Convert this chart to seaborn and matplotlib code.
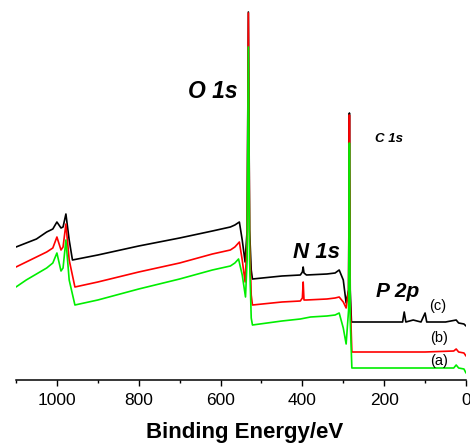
import numpy as np
import pandas as pd
import matplotlib
matplotlib.use("Agg")
import matplotlib.pyplot as plt
from matplotlib.ticker import MultipleLocator
import seaborn as sns

# XPS survey spectra (intensity in arbitrary units)
energy_c = [1100, 1075, 1050, 1025, 1010, 1000, 990, 985, 978, 970, 962, 900, 800, 700, 620,
            576, 565, 554, 547, 540, 535, 532, 529, 525, 522, 450, 405, 400, 398, 396, 390,
            340, 320, 310, 300, 293, 287, 285, 283, 280, 276, 200, 155, 151, 147, 129, 110,
            100, 96, 50, 24, 18, 5, 0]
intensity_c = [133, 137, 141, 148, 151, 158, 152, 153, 166, 140, 120, 125, 134, 142, 149,
               153, 155, 158, 140, 118, 150, 368, 150, 110, 101, 104, 105, 108, 113, 107, 105,
               106, 107, 110, 100, 77, 90, 267, 90, 58, 58, 58, 58, 68, 58, 60, 58,
               67, 58, 58, 60, 57, 56, 54]

energy_b = [1100, 1075, 1050, 1025, 1010, 1000, 990, 985, 978, 970, 956, 900, 800, 700, 620,
            576, 565, 554, 547, 540, 535, 532, 529, 525, 522, 450, 405, 400, 398, 396, 390,
            340, 320, 310, 300, 293, 287, 285, 283, 279, 200, 100, 30, 24, 18, 5, 0]
intensity_b = [113, 118, 123, 128, 132, 143, 130, 133, 156, 120, 93, 98, 108, 117, 126,
               130, 133, 138, 120, 98, 140, 367, 140, 85, 75, 78, 79, 82, 98, 80, 80,
               81, 82, 83, 78, 72, 90, 265, 80, 28, 28, 28, 29, 31, 28, 27, 24]

energy_a = [1100, 1075, 1050, 1025, 1010, 1000, 990, 985, 978, 970, 956, 900, 800, 700, 620,
            576, 565, 556, 547, 539, 535, 532, 529, 525, 522, 450, 405, 380, 340, 320, 310,
            300, 293, 287, 285, 283, 279, 200, 100, 30, 24, 18, 5, 0]
intensity_a = [93, 100, 106, 112, 117, 127, 109, 112, 140, 100, 75, 80, 91, 101, 110,
               114, 117, 121, 105, 83, 120, 333, 120, 62, 55, 59, 61, 63, 64, 65, 67,
               52, 36, 70, 237, 60, 12, 12, 12, 12, 15, 12, 11, 7]

sample_labels = ["(c)", "(b)", "(a)"]
sample_colors = ["black", "#ff0000", "#00ee00"]

df = pd.concat([
    pd.DataFrame({"Binding Energy": energy_c, "Intensity": intensity_c, "Sample": "(c)"}),
    pd.DataFrame({"Binding Energy": energy_b, "Intensity": intensity_b, "Sample": "(b)"}),
    pd.DataFrame({"Binding Energy": energy_a, "Intensity": intensity_a, "Sample": "(a)"}),
], ignore_index=True)

sns.set_style("white")
plt.rcParams["font.family"] = ["Liberation Sans", "DejaVu Sans"]
plt.rcParams["text.color"] = "black"
plt.rcParams["axes.labelcolor"] = "black"
plt.rcParams["xtick.color"] = "black"

fig = plt.figure(figsize=(4.7, 4.45), dpi=100)
ax = fig.add_axes([16 / 470, 1 - 380 / 445, 450 / 470, 380 / 445])

sns.lineplot(data=df, x="Binding Energy", y="Intensity", hue="Sample",
             hue_order=sample_labels, palette=sample_colors, linewidth=1.2,
             legend=False, estimator=None, sort=False, ax=ax)

ax.set_xlim(1100, 0)
ax.set_ylim(0, 380)
ax.xaxis.set_major_locator(MultipleLocator(200))
ax.xaxis.set_minor_locator(MultipleLocator(100))
ax.set_yticks([])
ax.set_ylabel("")
for s in ["left", "right", "top"]:
    ax.spines[s].set_visible(False)
ax.spines["bottom"].set_linewidth(1.1)
ax.spines["bottom"].set_color("black")
ax.tick_params(axis="x", which="major", direction="out", length=4.5, width=1,
               labelsize=12.5, pad=5, bottom=True)
ax.tick_params(axis="x", which="minor", direction="out", length=2.5, width=1, bottom=True)
ax.set_xlabel("Binding Energy/eV", fontsize=16, fontweight="bold", labelpad=10)
ax.xaxis.label.set_x(0.509)

peak_style = dict(fontweight="bold", fontstyle="italic", va="baseline")
ax.text(558, 282, "O 1s", fontsize=16.5, ha="right", **peak_style)
ax.text(422, 122, "N 1s", fontsize=16, ha="left", **peak_style)
ax.text(222, 238, "C 1s", fontsize=9.5, ha="left", **peak_style)
ax.text(220, 83, "P 2p", fontsize=15, ha="left", **peak_style)

ax.text(90, 70, "(c)", fontsize=10.5, ha="left", va="baseline")
ax.text(88, 38, "(b)", fontsize=10.5, ha="left", va="baseline")
ax.text(88, 15, "(a)", fontsize=10.5, ha="left", va="baseline")

fig.savefig("out.png", dpi=100)
